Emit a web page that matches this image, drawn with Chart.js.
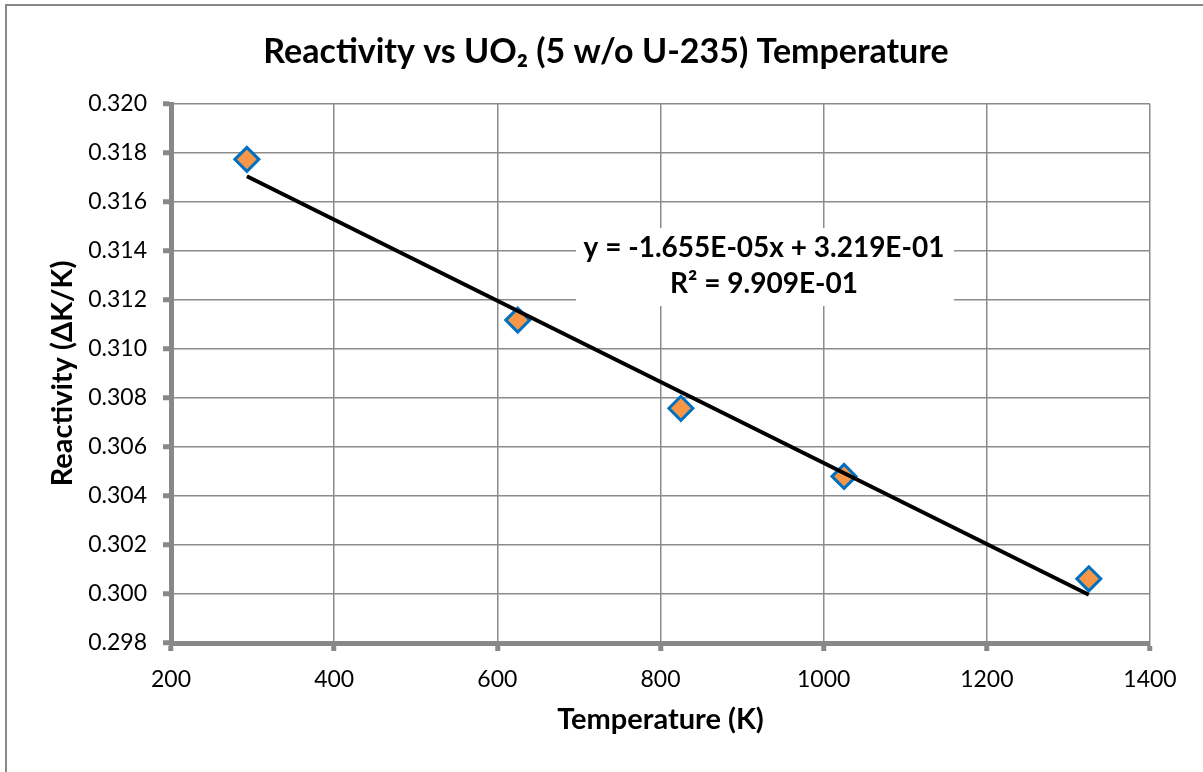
<!DOCTYPE html>
<html>
<head>
<meta charset="utf-8">
<title>Reactivity vs UO2 Temperature</title>
<script src="https://cdn.jsdelivr.net/npm/chart.js@4/dist/chart.umd.min.js"></script>
<style>
  html, body { margin: 0; padding: 0; background: #fff; }
  #wrap { width: 1203px; height: 772px; position: relative; }
</style>
</head>
<body>
<div id="wrap"><canvas id="reactivityChart" width="1203" height="772"></canvas></div>
<script>
// data
const temperatures = [293, 625, 825, 1025, 1325];
const reactivity = [0.31774, 0.31118, 0.30758, 0.30480, 0.30062];

// linear trendline, as printed on the chart
const fitSlope = -1.655e-5;
const fitIntercept = 0.3219;
const fitLabel = ['y = -1.655E-05x + 3.219E-01', 'R\u00B2 = 9.909E-01'];

// axis ranges / ticks
const xTicks = [200, 400, 600, 800, 1000, 1200, 1400];
const yTicks = [0.298, 0.300, 0.302, 0.304, 0.306, 0.308, 0.310, 0.312, 0.314, 0.316, 0.318, 0.320];

const FONT = 'Lato, "Open Sans", sans-serif';

let points = temperatures.map((t, i) => ({ x: t, y: reactivity[i] }));
let tMin = Math.min(...temperatures);
let tMax = Math.max(...temperatures);
let trend = [
    { x: tMin, y: fitIntercept + fitSlope * tMin },
    { x: tMax, y: fitIntercept + fitSlope * tMax }
];

// outer chart border (runs off the right and bottom of the picture)
const frame = {
    id: 'frame',
    beforeDraw(chart) {
        const ctx = chart.ctx;
        ctx.save();
        ctx.fillStyle = '#fff';
        ctx.fillRect(0, 0, chart.width, chart.height);
        ctx.strokeStyle = '#888';
        ctx.lineWidth = 2;
        ctx.strokeRect(6, 5, chart.width + 20, chart.height + 20);
        ctx.restore();
    }
};

// white box with the trendline equation
const equationBox = {
    id: 'equationBox',
    beforeDatasetsDraw(chart) {
        const ctx = chart.ctx;
        ctx.save();
        ctx.fillStyle = '#fff';
        ctx.fillRect(576, 228, 378, 78);
        ctx.fillStyle = '#000';
        ctx.font = 'bold 28px ' + FONT;
        ctx.textAlign = 'center';
        ctx.textBaseline = 'middle';
        ctx.fillText(fitLabel[0], 764, 248);
        ctx.fillText(fitLabel[1], 764, 284);
        ctx.restore();
    }
};

const ctx = document.getElementById('reactivityChart').getContext('2d');
const reactivityChart = new Chart(ctx, {
    type: 'scatter',
    data: {
        datasets: [
            {
                label: 'Trendline',
                data: trend,
                type: 'line',
                borderColor: '#000',
                borderWidth: 4,
                pointRadius: 0,
                fill: false,
                order: 0
            },
            {
                label: 'Reactivity',
                data: points,
                pointStyle: 'rectRot',
                pointRadius: 12,
                pointHoverRadius: 12,
                backgroundColor: '#F79646',
                borderColor: '#0070C0',
                borderWidth: 3,
                order: 1
            }
        ]
    },
    options: {
        responsive: false,
        animation: false,
        layout: { padding: { left: 9, right: 0, top: 0, bottom: 0 } },
        plugins: {
            legend: { display: false },
            tooltip: { enabled: false },
            title: {
                display: true,
                text: 'Reactivity vs UO\u2082 (5 w/o U-235) Temperature',
                color: '#000',
                font: { family: FONT, size: 34, weight: 'bold', lineHeight: 1.2 },
                padding: { top: 31.6, bottom: 31.6 }
            }
        },
        scales: {
            x: {
                type: 'linear',
                min: xTicks[0],
                max: xTicks[xTicks.length - 1],
                afterBuildTicks: (scale) => { scale.ticks = xTicks.map(v => ({ value: v })); },
                afterFit: (scale) => { scale.height = 129; },
                ticks: {
                    color: '#000',
                    font: { family: FONT, size: 23 },
                    padding: 15,
                    maxRotation: 0,
                    callback: (v) => String(v)
                },
                grid: {
                    color: '#8c8c8c',
                    lineWidth: 1.5,
                    tickLength: 8,
                    tickWidth: 5,
                    tickColor: '#888'
                },
                border: { color: '#888', width: 5 },
                title: {
                    display: true,
                    text: 'Temperature (K)',
                    color: '#000',
                    font: { family: FONT, size: 29, weight: 'bold', lineHeight: 1.2 },
                    padding: { top: 0, bottom: 34.6 }
                }
            },
            y: {
                type: 'linear',
                min: yTicks[0],
                max: yTicks[yTicks.length - 1],
                afterBuildTicks: (scale) => { scale.ticks = yTicks.map(v => ({ value: v })); },
                afterFit: (scale) => { scale.width = 162; },
                ticks: {
                    color: '#000',
                    font: { family: FONT, size: 23 },
                    padding: 16,
                    callback: (v) => Number(v).toFixed(3)
                },
                grid: {
                    color: '#8c8c8c',
                    lineWidth: 1.5,
                    tickLength: 8,
                    tickWidth: 5,
                    tickColor: '#888'
                },
                border: { color: '#888', width: 5 },
                title: {
                    display: true,
                    text: 'Reactivity (\u0394K/K)',
                    color: '#000',
                    font: { family: FONT, size: 29, weight: 'bold', lineHeight: 1.2 },
                    padding: { top: 36.6, bottom: 0 }
                }
            },
            // empty strip on the right, keeps the title centred on the whole chart
            yRight: {
                type: 'linear',
                position: 'right',
                display: true,
                afterFit: (scale) => { scale.width = 53; },
                ticks: { display: false },
                grid: { display: false, drawTicks: false },
                border: { display: false },
                title: { display: false }
            }
        }
    },
    plugins: [frame, equationBox]
});
</script>
</body>
</html>
